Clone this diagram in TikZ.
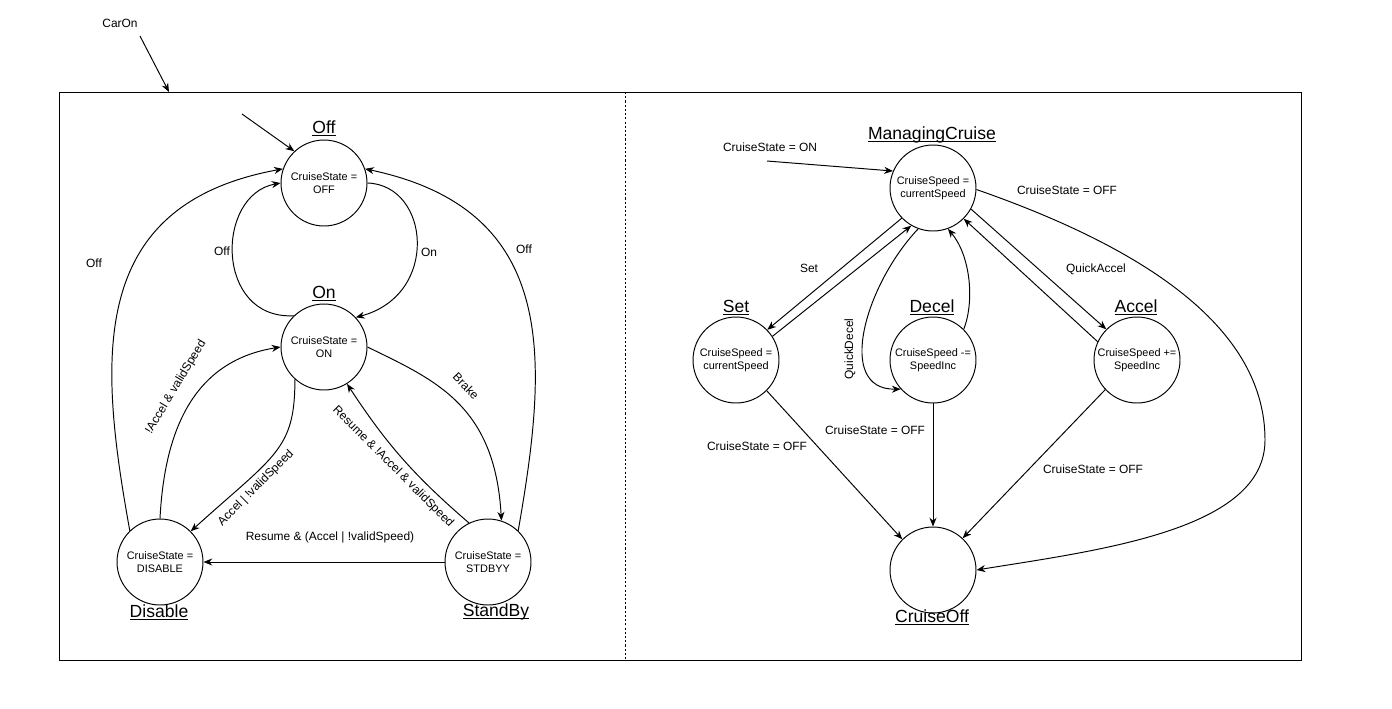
\documentclass[tikz,border=0pt]{standalone}
\usepackage{fontspec}
\setmainfont{Liberation Sans}
\usetikzlibrary{arrows.meta}
\newcommand{\lblsize}{\fontsize{6.8pt}{8pt}\selectfont}
\newcommand{\innersize}{\fontsize{6.2pt}{7.4pt}\selectfont}
\newcommand{\namesize}{\fontsize{10pt}{12pt}\selectfont}
\newcommand{\stul}[1]{\underline{\vphantom{A}\smash{#1}}}

\begin{document}
\begin{tikzpicture}[x=0.02cm,y=-0.02cm,line width=0.55pt,
    >={Stealth[length=5pt,width=4pt]},
    state/.style={circle,draw,minimum size=1.72cm,inner sep=0pt,align=center,font=\innersize},
    stname/.style={font=\namesize,inner sep=0pt},
    lbl/.style={font=\lblsize,inner sep=1pt}]
\useasboundingbox (0,0) rectangle (1392,708);
% frame
\draw (59,92) rectangle (1301,660);
\draw[dash pattern=on 1.2pt off 1.2pt] (625,92) -- (625,660);
\node[lbl] (caron) at (120,23) {CarOn};
\coordinate (caronstart) at (140,36);
\coordinate (frametop) at (169,92);
\draw[->] (caronstart) -- (frametop);
% left states
\node[state] (off) at (324,183) {CruiseState =\\OFF};
\node[state] (on) at (324,347) {CruiseState =\\ON};
\node[state] (dis) at (160,562) {CruiseState =\\DISABLE};
\node[state] (sby) at (488,562) {CruiseState =\\STDBYY};
\node[stname] (offname) at (324,129) {\stul{Off}};
\node[stname] (onname) at (324,294) {\stul{On}};
\node[stname] (disname) at (159,613) {\stul{Disable}};
\node[stname] (sbyname) at (496,612) {\stul{StandBy}};
% left transitions
\coordinate (offinit) at (242,114);
\draw[->] (offinit) -- (off.133);
\draw[->] (off.0) .. controls (430,185) and (440,295) .. (on.43);
\draw[->] (on.134) .. controls (215,320) and (215,195) .. (off.180);
\draw[->] (dis.134) .. controls (99,360) and (86,205) .. (off.161);
\draw[->] (sby.46) .. controls (548,360) and (560,210) .. (off.19);
\draw[->] (dis.90) .. controls (165,420) and (200,360) .. (on.180);
\draw[->] (on.228) .. controls (295,450) and (275,455) .. (dis.45);
\draw[->] (on.0) .. controls (435,380) and (495,405) .. (sby.72);
\draw[->] (sby.116) to[bend left=8] (on.302);
\draw[->] (sby.180) -- (dis.0);
\node[lbl] (lon) at (429,252) {On};
\node[lbl] (loff) at (222,251) {Off};
\node[lbl] (ldisoff) at (94,263) {Off};
\node[lbl] (lsbyoff) at (524,249) {Off};
\node[lbl,rotate=59] (ldison) at (176,387) {!Accel \& validSpeed};
\node[lbl,rotate=45] (londis) at (256,488) {Accel | !validSpeed};
\node[lbl,rotate=-46] (lbrake) at (466,386) {Brake};
\node[lbl,rotate=-45] (lresume) at (393,467) {Resume \& !Accel \& validSpeed};
\node[lbl] (lsbydis) at (330,537) {Resume \& (Accel | !validSpeed)};
% right states
\node[state] (mc) at (933,188) {CruiseSpeed =\\currentSpeed};
\node[state] (set) at (736,360) {CruiseSpeed =\\currentSpeed};
\node[state] (dec) at (933,360) {CruiseSpeed -=\\SpeedInc};
\node[state] (acc) at (1137,360) {CruiseSpeed +=\\SpeedInc};
\node[state] (coff) at (933,570) {};
\node[stname] (mcname) at (932,135) {\stul{ManagingCruise}};
\node[stname] (setname) at (736,308) {\stul{Set}};
\node[stname] (decname) at (932,308) {\stul{Decel}};
\node[stname] (accname) at (1136,308) {\stul{Accel}};
\node[stname] (coffname) at (932,618) {\stul{CruiseOff}};
% right transitions
\coordinate (mcinit) at (767,161);
\draw[->] (mcinit) -- (mc.157);
\draw[->] (mc.224) -- (set.44);
\draw[->] (set.33) -- (mc.240);
\draw[->] (mc.250) .. controls (865,285) and (835,390) .. (dec.222);
\draw[->] (dec.45) .. controls (975,300) and (970,255) .. (mc.290);
\draw[->] (mc.331) -- (acc.135);
\draw[->] (acc.155) -- (mc.315);
\draw[->] (mc.358) .. controls (1150,250) and (1265,330) .. (1265,440)
    .. controls (1265,530) and (1100,550) .. (coff.0);
\draw[->] (set.315) -- (coff.135);
\draw[->] (dec.270) -- (coff.90);
\draw[->] (acc.223) -- (coff.47);
\node[lbl] (lmcinit) at (770,147) {CruiseState = ON};
\node[lbl] (lset) at (809,268) {Set};
\node[lbl] (lqaccel) at (1096,269) {QuickAccel};
\node[lbl,rotate=90] (lqdecel) at (850,349) {QuickDecel};
\node[lbl] (lmcoff) at (1067,190) {CruiseState = OFF};
\node[lbl] (lsetoff) at (757,446) {CruiseState = OFF};
\node[lbl] (ldecoff) at (875,430) {CruiseState = OFF};
\node[lbl] (laccoff) at (1093,469) {CruiseState = OFF};
\end{tikzpicture}
\end{document}
